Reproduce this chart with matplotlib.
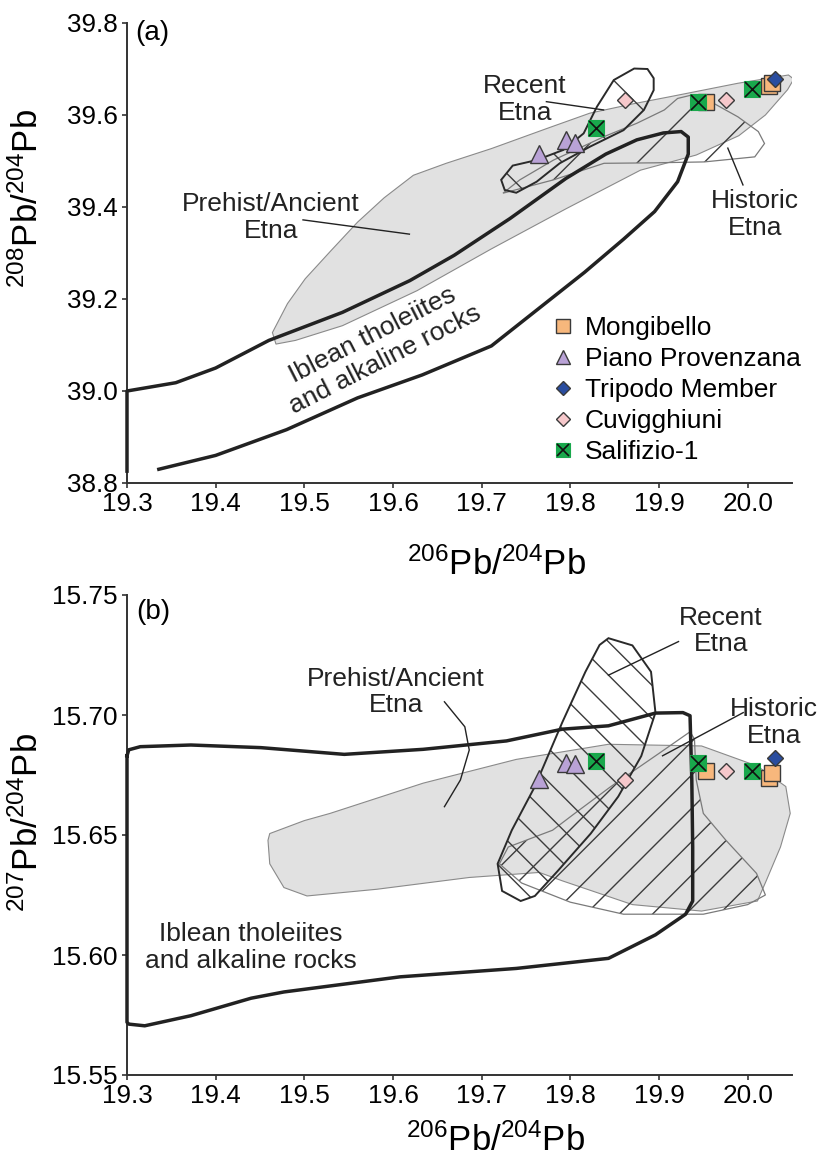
import matplotlib
matplotlib.use("Agg")
import matplotlib.pyplot as plt
from matplotlib.patches import Polygon

plt.rcParams.update({
    "font.family": ["Liberation Sans", "DejaVu Sans"],
    "mathtext.default": "regular",
    "hatch.linewidth": 0.5,
})

# --- sample data (206Pb/204Pb shared by both panels) ---
PB206_MONGIBELLO = [19.953, 20.024, 20.027]
PB208_MONGIBELLO = [39.629, 39.663, 39.669]
PB207_MONGIBELLO = [15.6768, 15.6736, 15.6757]

PB206_PIANO = [19.765, 19.795, 19.805]
PB208_PIANO = [39.515, 39.546, 39.540]
PB207_PIANO = [15.6732, 15.6801, 15.6794]

PB206_TRIPODO = [20.031]
PB208_TRIPODO = [39.678]
PB207_TRIPODO = [15.6820]

PB206_CUVIGGHIUNI = [19.862, 19.976]
PB208_CUVIGGHIUNI = [39.633, 39.633]
PB207_CUVIGGHIUNI = [15.6729, 15.6767]

PB206_SALIFIZIO = [19.829, 19.944, 20.005]
PB208_SALIFIZIO = [39.572, 39.629, 39.656]
PB207_SALIFIZIO = [15.6808, 15.6799, 15.6768]

# --- field outlines, panel (a) 208Pb/204Pb ---
IBLEAN_A = [(19.300, 38.822), (19.300, 39.000), (19.355, 39.018), (19.40, 39.05),
            (19.460, 39.11), (19.543, 39.171), (19.619, 39.240), (19.669, 39.295),
            (19.732, 39.375), (19.795, 39.462), (19.840, 39.515), (19.875, 39.546),
            (19.905, 39.561), (19.925, 39.564), (19.933, 39.552), (19.933, 39.515),
            (19.921, 39.455), (19.895, 39.390), (19.860, 39.330), (19.816, 39.258),
            (19.711, 39.098), (19.633, 39.035), (19.560, 38.985), (19.480, 38.916),
            (19.400, 38.860), (19.334, 38.829)]
PREHIST_A = [(19.464, 39.127), (19.481, 39.190), (19.501, 39.244), (19.530, 39.305),
             (19.560, 39.367), (19.590, 39.420), (19.623, 39.469), (19.660, 39.495),
             (19.711, 39.527), (19.774, 39.571), (19.822, 39.604), (19.870, 39.624),
             (19.913, 39.640), (19.989, 39.669), (20.046, 39.687), (20.052, 39.678),
             (20.045, 39.655), (20.020, 39.600), (19.990, 39.555), (19.942, 39.513),
             (19.879, 39.480), (19.795, 39.396), (19.711, 39.309), (19.627, 39.218),
             (19.543, 39.142), (19.490, 39.110), (19.468, 39.102)]
RECENT_A = [(19.722, 39.459), (19.735, 39.490), (19.762, 39.502), (19.792, 39.524),
            (19.815, 39.560), (19.830, 39.618), (19.849, 39.676), (19.872, 39.701),
            (19.887, 39.700), (19.894, 39.680), (19.894, 39.654), (19.883, 39.611),
            (19.860, 39.567), (19.822, 39.531), (19.788, 39.495), (19.762, 39.455),
            (19.739, 39.431), (19.726, 39.437)]
HISTORIC_A = [(19.724, 39.430), (19.781, 39.459), (19.838, 39.495), (19.894, 39.496),
              (19.951, 39.498), (20.008, 39.509), (20.019, 39.538), (20.012, 39.564),
              (19.989, 39.596), (19.962, 39.625), (19.936, 39.643), (19.921, 39.636),
              (19.906, 39.611), (19.875, 39.582), (19.838, 39.553), (19.781, 39.502),
              (19.743, 39.459)]

# --- field outlines, panel (b) 207Pb/204Pb ---
IBLEAN_B = [(19.300, 15.683), (19.302, 15.6855), (19.315, 15.6868), (19.372, 15.6875),
            (19.451, 15.6864), (19.545, 15.6836), (19.634, 15.6857), (19.728, 15.6892),
            (19.791, 15.6941), (19.843, 15.6955), (19.896, 15.7008), (19.927, 15.7010),
            (19.935, 15.6997), (19.937, 15.6730), (19.938, 15.6450), (19.938, 15.6225),
            (19.930, 15.6170), (19.896, 15.6084), (19.843, 15.5986), (19.739, 15.5944),
            (19.608, 15.5909), (19.477, 15.5846), (19.440, 15.5820), (19.372, 15.5747),
            (19.320, 15.5705), (19.302, 15.5712), (19.300, 15.5720), (19.300, 15.683)]
PREHIST_B = [(19.459, 15.6478), (19.461, 15.6506), (19.500, 15.6560), (19.529, 15.6590),
             (19.634, 15.6716), (19.739, 15.6815), (19.843, 15.6878), (19.948, 15.6871),
             (20.011, 15.6787), (20.043, 15.6702), (20.048, 15.6590), (20.037, 15.6450),
             (20.021, 15.6310), (20.011, 15.6225), (19.948, 15.6183), (19.870, 15.6210),
             (19.791, 15.6309), (19.765, 15.6344), (19.686, 15.6323), (19.582, 15.6274),
             (19.503, 15.6246), (19.477, 15.6281), (19.461, 15.6380)]
RECENT_B = [(19.843, 15.7320), (19.870, 15.7290), (19.891, 15.7180), (19.896, 15.7010),
            (19.880, 15.6829), (19.854, 15.6660), (19.823, 15.6506), (19.786, 15.6351),
            (19.760, 15.6246), (19.744, 15.6225), (19.723, 15.6267), (19.718, 15.6380),
            (19.734, 15.6520), (19.760, 15.6702), (19.791, 15.6970), (19.817, 15.7180),
            (19.833, 15.7292)]
HISTORIC_B = [(19.935, 15.6930), (19.900, 15.6840), (19.845, 15.6700), (19.805, 15.6590),
              (19.780, 15.6520), (19.730, 15.6450), (19.720, 15.6380), (19.745, 15.6300),
              (19.800, 15.6220), (19.860, 15.6170), (19.950, 15.6170), (20.000, 15.6210),
              (20.020, 15.6250), (20.010, 15.6340), (19.975, 15.6480), (19.950, 15.6590),
              (19.942, 15.6730), (19.940, 15.6900)]
PREHIST_LEADER_B = [(19.658, 15.7055), (19.681, 15.6951), (19.686, 15.6854),
                    (19.676, 15.6729), (19.658, 15.6618)]

ORANGE = "#f7b77c"
LAVENDER = "#b9a2d6"
BLUE = "#2a4d9f"
PINK = "#f6c8cb"
GREEN = "#19a84c"
EDGE = "#3a3a3a"
GREY_FILL = "#e1e1e1"
INK = "#222222"


def add_field(ax, pts, face=None, edge=INK, lw=0.6, hatch=None):
    if face:
        ax.add_patch(Polygon(pts, closed=True, facecolor=face, edgecolor=edge,
                             lw=lw, zorder=1))
        return
    if hatch:
        ax.add_patch(Polygon(pts, closed=True, fill=False, hatch=hatch,
                             edgecolor="#3c3c3c", lw=0, zorder=2))
    ax.add_patch(Polygon(pts, closed=True, fill=False, edgecolor=edge, lw=lw, zorder=2))


def add_samples(ax, ym, yp, yt, yc, ys):
    kw = dict(ls="none", mec=EDGE, mew=0.5, zorder=5)
    hm, = ax.plot(PB206_MONGIBELLO, ym, marker="s", ms=5.6, mfc=ORANGE, **kw)
    hp, = ax.plot(PB206_PIANO, yp, marker="^", ms=6.3, mfc=LAVENDER, **kw)
    hc, = ax.plot(PB206_CUVIGGHIUNI, yc, marker="D", ms=4.3, mfc=PINK, **kw)
    hs, = ax.plot(PB206_SALIFIZIO, ys, marker="s", ms=5.6, mfc=GREEN, mec=GREEN,
                  mew=0.4, ls="none", zorder=6)
    hx, = ax.plot(PB206_SALIFIZIO, ys, marker="x", ms=5.4, mec="#111111",
                  mew=0.6, ls="none", zorder=7)
    ht, = ax.plot(PB206_TRIPODO, yt, marker="D", ms=4.3, mfc=BLUE, **kw)
    return [hm, hp, ht, hc, (hs, hx)]


def style_axes(ax, ylim, yfmt):
    ax.set_xlim(19.3, 20.05)
    ax.set_ylim(*ylim)
    for side in ("top", "right"):
        ax.spines[side].set_visible(False)
    for side in ("left", "bottom"):
        ax.spines[side].set_linewidth(0.7)
        ax.spines[side].set_color("#333333")
    ax.set_xticks([19.3, 19.4, 19.5, 19.6, 19.7, 19.8, 19.9, 20.0])
    ax.xaxis.set_major_formatter(matplotlib.ticker.FormatStrFormatter("%.1f"))
    ax.yaxis.set_major_formatter(matplotlib.ticker.FormatStrFormatter(yfmt))
    ax.tick_params(direction="out", length=1.8, width=0.6, color="#333333",
                   labelsize=9.4, pad=1.5)
    ax.set_xlabel(r"$^{206}$Pb/$^{204}$Pb", fontsize=12.5)


def leader(ax, pts):
    ax.plot([p[0] for p in pts], [p[1] for p in pts], color=INK, lw=0.5, zorder=4)


fig = plt.figure(figsize=(4.11, 5.79), dpi=200)

# ---------------- panel (a) ----------------
ax = fig.add_axes([127 / 822, 1 - 483 / 1158, 665 / 822, 460 / 1158])
add_field(ax, PREHIST_A, face=GREY_FILL, edge="#8a8a8a", lw=0.4)
add_field(ax, HISTORIC_A, edge="#7a7a7a", lw=0.45, hatch="/")
add_field(ax, RECENT_A, edge="#2a2a2a", lw=0.7, hatch="\\")
ax.plot([p[0] for p in IBLEAN_A], [p[1] for p in IBLEAN_A], color=INK, lw=1.25,
        zorder=3, clip_on=False, solid_capstyle="butt")
handles = add_samples(ax, PB208_MONGIBELLO, PB208_PIANO, PB208_TRIPODO,
                      PB208_CUVIGGHIUNI, PB208_SALIFIZIO)
style_axes(ax, (38.8, 39.8), "%.1f")
ax.set_yticks([38.8, 39.0, 39.2, 39.4, 39.6, 39.8])
ax.set_ylabel(r"$^{208}$Pb/$^{204}$Pb", fontsize=12.5)
ax.yaxis.set_label_coords(-0.124, 0.618)
ax.xaxis.set_label_coords(0.556, -0.14)

txt = dict(fontsize=9.5, color=INK, ha="center", va="center", linespacing=1.15)
ax.text(0.012, 0.978, "(a)", transform=ax.transAxes, fontsize=10, ha="left", va="center")
ax.text(19.4625, 39.377, "Prehist/Ancient\nEtna", **txt)
leader(ax, [(19.4985, 39.372), (19.6185, 39.341)])
ax.text(19.7485, 39.633, "Recent\nEtna", **txt)
leader(ax, [(19.773, 39.629), (19.8375, 39.611)])
ax.text(20.008, 39.383, "Historic\nEtna", **txt)
leader(ax, [(19.9947, 39.448), (19.9776, 39.528)])
ax.text(19.584, 39.095, "Iblean tholeiites\nand alkaline rocks", rotation=27,
        rotation_mode="anchor", **txt)

ax.legend(handles, ["Mongibello", "Piano Provenzana", "Tripodo Member",
                    "Cuvigghiuni", "Salifizio-1"],
          loc="upper left", bbox_to_anchor=(0.636, 0.362), frameon=False,
          fontsize=9.5, handlelength=1.0, handletextpad=0.33, labelspacing=0.26,
          borderpad=0, borderaxespad=0, markerscale=0.85)

# ---------------- panel (b) ----------------
ax = fig.add_axes([127 / 822, 1 - 1075 / 1158, 665 / 822, 480 / 1158])
add_field(ax, PREHIST_B, face=GREY_FILL, edge="#8a8a8a", lw=0.4)
add_field(ax, HISTORIC_B, edge="#7a7a7a", lw=0.45, hatch="//")
add_field(ax, RECENT_B, edge="#2a2a2a", lw=0.7, hatch="\\\\")
ax.plot([p[0] for p in IBLEAN_B], [p[1] for p in IBLEAN_B], color=INK, lw=1.25,
        zorder=3, clip_on=False)
add_samples(ax, PB207_MONGIBELLO, PB207_PIANO, PB207_TRIPODO,
            PB207_CUVIGGHIUNI, PB207_SALIFIZIO)
style_axes(ax, (15.55, 15.75), "%.2f")
ax.set_yticks([15.55, 15.60, 15.65, 15.70, 15.75])
ax.set_ylabel(r"$^{207}$Pb/$^{204}$Pb", fontsize=12.5)
ax.yaxis.set_label_coords(-0.124, 0.526)
ax.xaxis.set_label_coords(0.554, -0.100)

ax.text(0.014, 0.965, "(b)", transform=ax.transAxes, fontsize=10, ha="left", va="center")
ax.text(19.603, 15.7096, "Prehist/Ancient\nEtna", **txt)
leader(ax, PREHIST_LEADER_B)
ax.text(19.970, 15.735, "Recent\nEtna", **txt)
leader(ax, [(19.922, 15.7306), (19.843, 15.7166)])
ax.text(20.030, 15.697, "Historic\nEtna", **txt)
leader(ax, [(19.995, 15.701), (19.904, 15.683)])
ax.text(19.44, 15.603, "Iblean tholeiites\nand alkaline rocks", **txt)

fig.savefig("out.png", dpi=200, facecolor="white")
